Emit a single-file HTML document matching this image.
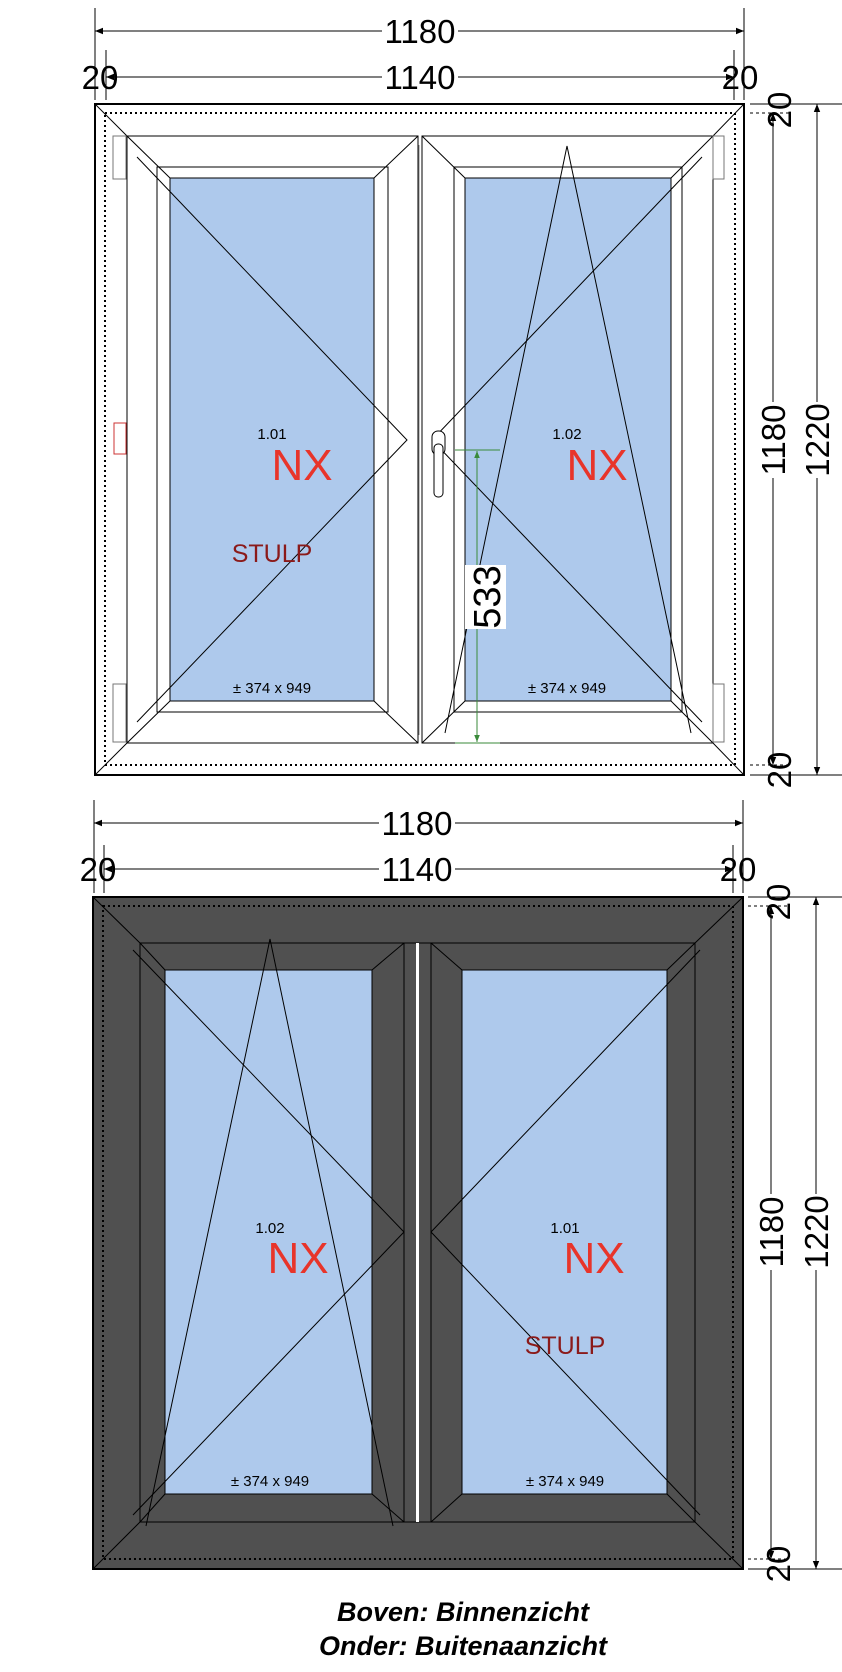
<!DOCTYPE html>
<html><head><meta charset="utf-8"><style>
html,body{margin:0;padding:0;background:#fff;}
svg{display:block;}
text{font-family:"Liberation Sans",Arial,sans-serif;}
</style></head><body>
<svg width="842" height="1672" viewBox="0 0 842 1672" xmlns="http://www.w3.org/2000/svg">
<defs>
<marker id="a" viewBox="0 0 10 10" refX="10" refY="5" markerWidth="10" markerHeight="8" orient="auto-start-reverse" markerUnits="userSpaceOnUse"><path d="M0,1 L10,5 L0,9 z" fill="#000"/></marker>
<marker id="g" viewBox="0 0 10 10" refX="10" refY="5" markerWidth="8" markerHeight="7" orient="auto-start-reverse" markerUnits="userSpaceOnUse"><path d="M0,1 L10,5 L0,9 z" fill="#3a8a3a"/></marker>
</defs>

<g stroke="#000" stroke-width="1" fill="none">
<line x1="95" y1="8" x2="95" y2="100"/>
<line x1="744" y1="8" x2="744" y2="100"/>
<line x1="106" y1="50" x2="106" y2="100"/>
<line x1="734" y1="50" x2="734" y2="100"/>
<line x1="95" y1="31" x2="744" y2="31" marker-start="url(#a)" marker-end="url(#a)"/>
<line x1="106" y1="77" x2="734" y2="77" marker-start="url(#a)" marker-end="url(#a)"/>
</g>
<rect x="382" y="14" width="76" height="32" fill="#fff"/>
<text x="420" y="43" font-size="33" text-anchor="middle">1180</text>
<rect x="382" y="60" width="76" height="32" fill="#fff"/>
<text x="420" y="89" font-size="33" text-anchor="middle">1140</text>
<text x="100" y="89" font-size="33" text-anchor="middle">20</text>
<text x="740" y="89" font-size="33" text-anchor="middle">20</text>

<rect x="95" y="104" width="649" height="671" fill="#fff" stroke="#000" stroke-width="2"/>
<rect x="105" y="113" width="630" height="652" fill="none" stroke="#000" stroke-width="2" stroke-dasharray="2,3"/>
<g stroke="#000" stroke-width="1" fill="none">
<line x1="95" y1="104" x2="127" y2="136"/><line x1="744" y1="104" x2="713" y2="136"/>
<line x1="95" y1="775" x2="127" y2="743"/><line x1="744" y1="775" x2="713" y2="743"/>
<rect x="127" y="136" width="291" height="607" fill="#fff"/>
<rect x="422" y="136" width="291" height="607" fill="#fff"/>
<rect x="157" y="167" width="231" height="545"/>
<rect x="170" y="178" width="204" height="523" fill="#aec9ec"/>
<rect x="454" y="167" width="228" height="545"/>
<rect x="465" y="178" width="206" height="523" fill="#aec9ec"/>
<line x1="127" y1="136" x2="170" y2="178"/><line x1="418" y1="136" x2="374" y2="178"/>
<line x1="127" y1="743" x2="170" y2="701"/><line x1="418" y1="743" x2="374" y2="701"/>
<line x1="422" y1="136" x2="465" y2="178"/><line x1="713" y1="136" x2="671" y2="178"/>
<line x1="422" y1="743" x2="465" y2="701"/><line x1="713" y1="743" x2="671" y2="701"/>
<line x1="419" y1="145" x2="419" y2="735" stroke="#888"/>
<rect x="113" y="136" width="13" height="43" stroke="#777"/>
<rect x="113" y="684" width="13" height="58" stroke="#777"/>
<rect x="713" y="136" width="11" height="43" stroke="#777"/>
<rect x="713" y="684" width="11" height="58" stroke="#777"/>
<rect x="114" y="423" width="12" height="31" stroke="#c33"/>
<polyline points="137,157 407,440 137,722"/>
<polyline points="702,157 432,440 702,722"/>
<polyline points="445,733 567,146 691,733"/>
</g>
<rect x="432" y="431" width="13" height="24" rx="6" fill="#fff" stroke="#000"/>
<rect x="434" y="444" width="9" height="53" rx="4" fill="#fff" stroke="#000"/>
<g stroke="#3a8a3a" stroke-width="1">
<line x1="455" y1="450" x2="500" y2="450"/>
<line x1="455" y1="743" x2="500" y2="743"/>
<line x1="477" y1="451" x2="477" y2="742" marker-start="url(#g)" marker-end="url(#g)"/>
</g>
<rect x="465" y="565" width="41" height="64" fill="#fff"/>
<text transform="translate(500,597) rotate(-90)" font-size="38" text-anchor="middle">533</text>
<text x="272" y="439" font-size="15" text-anchor="middle">1.01</text>
<text x="302" y="480" font-size="44" fill="#e8342a" text-anchor="middle">NX</text>
<text x="272" y="562" font-size="25" fill="#8b1a1a" text-anchor="middle">STULP</text>
<text x="272" y="693" font-size="15" text-anchor="middle">± 374 x 949</text>
<text x="567" y="439" font-size="15" text-anchor="middle">1.02</text>
<text x="597" y="480" font-size="44" fill="#e8342a" text-anchor="middle">NX</text>
<text x="567" y="693" font-size="15" text-anchor="middle">± 374 x 949</text>

<g stroke="#000" stroke-width="1" fill="none">
<line x1="750" y1="104" x2="842" y2="104"/>
<line x1="750" y1="113" x2="790" y2="113" stroke-dasharray="3,3"/>
<line x1="750" y1="775" x2="842" y2="775"/>
<line x1="750" y1="765" x2="790" y2="765" stroke-dasharray="3,3"/>
<line x1="773" y1="113" x2="773" y2="765" marker-start="url(#a)" marker-end="url(#a)"/>
<line x1="817" y1="104" x2="817" y2="775" marker-start="url(#a)" marker-end="url(#a)"/>
</g>
<rect x="758" y="402" width="32" height="76" fill="#fff"/>
<rect x="802" y="402" width="32" height="76" fill="#fff"/>
<text transform="translate(785,440) rotate(-90)" font-size="33" text-anchor="middle">1180</text>
<text transform="translate(829,440) rotate(-90)" font-size="33" text-anchor="middle">1220</text>
<text transform="translate(791,110) rotate(-90)" font-size="33" text-anchor="middle">20</text>
<text transform="translate(791,770) rotate(-90)" font-size="33" text-anchor="middle">20</text>

<g stroke="#000" stroke-width="1" fill="none">
<line x1="94" y1="800" x2="94" y2="893"/>
<line x1="743" y1="800" x2="743" y2="893"/>
<line x1="104" y1="845" x2="104" y2="893"/>
<line x1="733" y1="845" x2="733" y2="893"/>
<line x1="94" y1="823" x2="743" y2="823" marker-start="url(#a)" marker-end="url(#a)"/>
<line x1="104" y1="869" x2="733" y2="869" marker-start="url(#a)" marker-end="url(#a)"/>
</g>
<rect x="379" y="806" width="76" height="32" fill="#fff"/>
<text x="417" y="835" font-size="33" text-anchor="middle">1180</text>
<rect x="379" y="852" width="76" height="32" fill="#fff"/>
<text x="417" y="881" font-size="33" text-anchor="middle">1140</text>
<text x="98" y="881" font-size="33" text-anchor="middle">20</text>
<text x="738" y="881" font-size="33" text-anchor="middle">20</text>

<rect x="93" y="897" width="650" height="672" fill="#505050" stroke="#000" stroke-width="2"/>
<rect x="103" y="906" width="630" height="653" fill="none" stroke="#000" stroke-width="2" stroke-dasharray="2,3"/>
<g stroke="#000" stroke-width="1" fill="none">
<line x1="93" y1="897" x2="140" y2="943"/><line x1="743" y1="897" x2="695" y2="943"/>
<line x1="93" y1="1569" x2="140" y2="1522"/><line x1="743" y1="1569" x2="695" y2="1522"/>
<rect x="140" y="943" width="555" height="579"/>
<rect x="165" y="970" width="207" height="524" fill="#aec9ec"/>
<rect x="462" y="970" width="205" height="524" fill="#aec9ec"/>
<line x1="140" y1="943" x2="165" y2="970"/><line x1="404" y1="943" x2="372" y2="970"/>
<line x1="140" y1="1522" x2="165" y2="1494"/><line x1="404" y1="1522" x2="372" y2="1494"/>
<line x1="431" y1="943" x2="462" y2="970"/><line x1="695" y1="943" x2="667" y2="970"/>
<line x1="431" y1="1522" x2="462" y2="1494"/><line x1="695" y1="1522" x2="667" y2="1494"/>
<line x1="404" y1="943" x2="404" y2="1522"/>
<line x1="431" y1="943" x2="431" y2="1522"/>
<rect x="416" y="943" width="3" height="579" fill="#fff" stroke="none"/>
<polyline points="133,950 404,1232 133,1515"/>
<polyline points="700,950 431,1232 700,1515"/>
<polyline points="146,1526 270,939 393,1526"/>
</g>
<text x="270" y="1233" font-size="15" text-anchor="middle">1.02</text>
<text x="298" y="1273" font-size="44" fill="#e8342a" text-anchor="middle">NX</text>
<text x="270" y="1486" font-size="15" text-anchor="middle">± 374 x 949</text>
<text x="565" y="1233" font-size="15" text-anchor="middle">1.01</text>
<text x="594" y="1273" font-size="44" fill="#e8342a" text-anchor="middle">NX</text>
<text x="565" y="1354" font-size="25" fill="#8b1a1a" text-anchor="middle">STULP</text>
<text x="565" y="1486" font-size="15" text-anchor="middle">± 374 x 949</text>

<g stroke="#000" stroke-width="1" fill="none">
<line x1="748" y1="897" x2="842" y2="897"/>
<line x1="748" y1="906" x2="790" y2="906" stroke-dasharray="3,3"/>
<line x1="748" y1="1569" x2="842" y2="1569"/>
<line x1="748" y1="1559" x2="790" y2="1559" stroke-dasharray="3,3"/>
<line x1="771" y1="906" x2="771" y2="1559" marker-start="url(#a)" marker-end="url(#a)"/>
<line x1="816" y1="897" x2="816" y2="1569" marker-start="url(#a)" marker-end="url(#a)"/>
</g>
<rect x="756" y="1194" width="32" height="76" fill="#fff"/>
<rect x="801" y="1194" width="32" height="76" fill="#fff"/>
<text transform="translate(783,1232) rotate(-90)" font-size="33" text-anchor="middle">1180</text>
<text transform="translate(828,1232) rotate(-90)" font-size="33" text-anchor="middle">1220</text>
<text transform="translate(790,902) rotate(-90)" font-size="33" text-anchor="middle">20</text>
<text transform="translate(790,1564) rotate(-90)" font-size="33" text-anchor="middle">20</text>

<text x="463" y="1621" font-size="27" font-weight="bold" font-style="italic" text-anchor="middle">Boven: Binnenzicht</text>
<text x="463" y="1655" font-size="27" font-weight="bold" font-style="italic" text-anchor="middle">Onder: Buitenaanzicht</text>
</svg>
</body></html>
